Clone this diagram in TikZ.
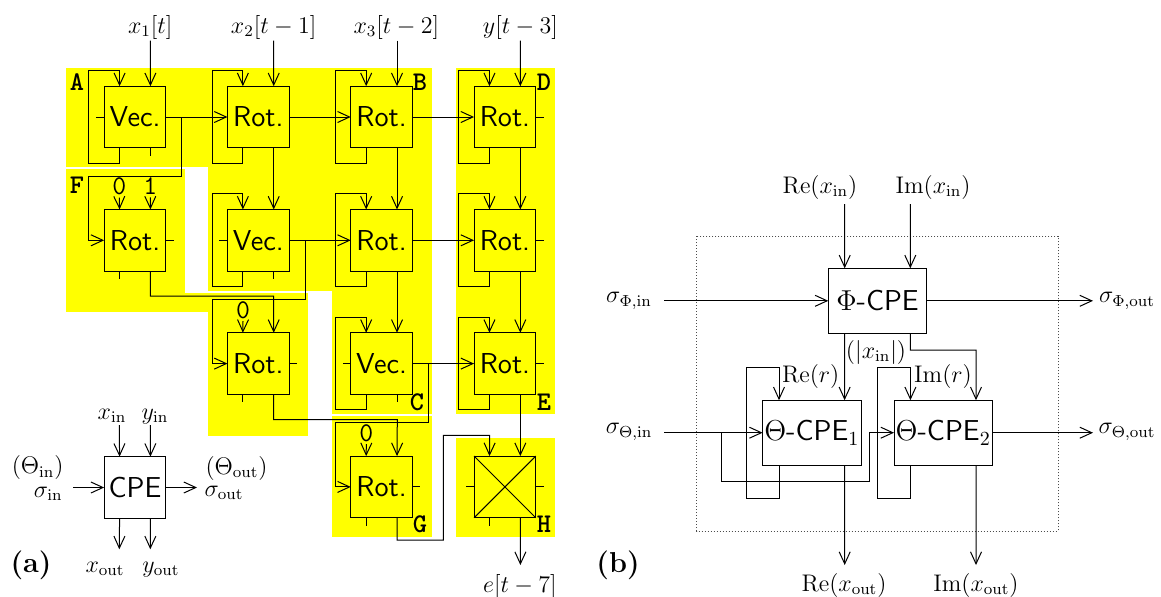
\documentclass[tikz,border=0pt]{standalone}
\usepackage{xcolor}
\usepackage{tikz}
\usepackage{amsmath}
\usetikzlibrary{arrows.meta,positioning,calc}
\definecolor{zonefill}{HTML}{FFFF00}
\newcommand{\markfont}{\ttfamily\bfseries\fontsize{13.5}{15}\selectfont}

\begin{document}
\begin{tikzpicture}[
  x=.5pt, y=-.5pt,
  node distance=30.8pt,
  line width=.5pt,
  zone/.style={fill=zonefill},
  cell/.style={draw, fill=zonefill, minimum size=30.85pt, inner sep=0pt, outer sep=0pt, font=\Large\sffamily},
  pebox/.style={draw, fill=white, minimum width=49.2pt, minimum height=32.5pt, inner sep=0pt, outer sep=0pt, font=\Large\sffamily},
  arr/.style={-{Straight Barb[length=6pt,width=5.5pt]}},
  lab/.style={inner sep=.5pt, font=\large},
  val/.style={inner sep=1pt, font=\ttfamily\fontsize{13.5}{15}\selectfont},
  regmark/.style={inner sep=0pt, font=\markfont}
]
\useasboundingbox (0,0) rectangle (1161,596);

% yellow regions
\fill[zone] (66,67.5) rectangle (431.7,166.5);
\fill[zone] (208,166) rectangle (308,290.7);
\fill[zone] (308,166) rectangle (332,291);
\fill[zone] (332,166) rectangle (431.7,414);
\fill[zone] (66,169) rectangle (185,311.7);
\fill[zone] (185,292.7) rectangle (208,311.7);
\fill[zone] (208,292.7) rectangle (308,435.5);
\fill[zone] (332,416) rectangle (431.7,536.7);
\fill[zone] (455.7,67.5) rectangle (555,414);
\fill[zone] (455.7,437.7) rectangle (555,536.7);

% array of cells
\node[cell] (n11) at (135,117) {Vec.};
\node[cell, right=of n11] (n12) {Rot.};
\node[cell, right=of n12] (n13) {Rot.};
\node[cell, right=of n13] (n14) {Rot.};
\node[cell, below=of n11] (n21) {Rot.};
\node[cell, right=of n21] (n22) {Vec.};
\node[cell, right=of n22] (n23) {Rot.};
\node[cell, right=of n23] (n24) {Rot.};
\node[cell, below=of n22] (n32) {Rot.};
\node[cell, right=of n32] (n33) {Vec.};
\node[cell, right=of n33] (n34) {Rot.};
\node[cell, below=of n33] (n43) {Rot.};
\node[cell, right=of n43] (n44) {};
\node[cell, fill=white] (cpe) at (135,487.5) {CPE};
\draw (n44.north west) -- (n44.south east);
\draw (n44.north east) -- (n44.south west);

\foreach \c in {n11,n12,n13,n14,n21,n22,n23,n24,n32,n33,n34,n43,n44,cpe} {
  \coordinate (\c-t1) at ($(\c.north west)!.25!(\c.north east)$);
  \coordinate (\c-t2) at ($(\c.north west)!.75!(\c.north east)$);
  \coordinate (\c-b1) at ($(\c.south west)!.25!(\c.south east)$);
  \coordinate (\c-b2) at ($(\c.south west)!.75!(\c.south east)$);
}

% feedback loops
\foreach \c in {n11,n12,n13,n14,n22,n23,n24,n33,n34}
  \draw[arr] (\c-b1) -- ++(0,15.5) -| ($(\c.west)+(-15.4,0)$) |- ($(\c-t1)+(0,-15.6)$) -- (\c-t1);

% unused ports
\foreach \c in {n11,n22,n33,n44}
  \draw (\c.west) -- ++(-8,0);
\foreach \c in {n14,n21,n24,n32,n34,n43,n44}
  \draw (\c.east) -- ++(8,0);
\foreach \c in {n21,n32,n43,n44}
  \draw (\c-b1) -- ++(0,8);
\foreach \c in {n11,n22,n33}
  \draw (\c-b2) -- ++(0,8);

% inputs
\node[lab] (x1) at (150.3,27) {$x_1[t]$};
\node[lab] (x2) at (273.7,27) {$x_2[t-1]$};
\node[lab] (x3) at (396.3,27) {$x_3[t-2]$};
\node[lab] (y3) at (520.4,27) {$y[t-3]$};
\draw[arr] (x1.south) -- (n11-t2);
\draw[arr] (x2.south) -- (n12-t2);
\draw[arr] (x3.south -| n13-t2) -- (n13-t2);
\draw[arr] (y3.south) -- (n14-t2);
\node[val] (v1) at (119.3,186.5) {0};
\node[val] (v2) at (150.3,186.5) {1};
\node[val] (v3) at (243,310) {0};
\node[val] (v4) at (366.3,433) {0};
\draw[arr] (v1.south) -- (n21-t1);
\draw[arr] (v2.south) -- (n21-t2);
\draw[arr] (v3.south) -- (n32-t1);
\draw[arr] (v4.south) -- (n43-t1);

% connections
\draw[arr] (n11) -- (n12);
\draw[arr] (n12) -- (n13);
\draw[arr] (n13) -- (n14);
\draw[arr] (n22) -- (n23);
\draw[arr] (n23) -- (n24);
\draw[arr] (n33) -- (n34);
\draw[arr] (n12-b2) -- (n22-t2);
\draw[arr] (n13-b2) -- (n23-t2);
\draw[arr] (n14-b2) -- (n24-t2);
\draw[arr] (n23-b2) -- (n33-t2);
\draw[arr] (n24-b2) -- (n34-t2);
\draw[arr] (n34-b2) -- (n44-t2);
\draw[arr] (181,117) |- (88.5,176) |- (n21.west);
\draw[arr] (305,240.7) |- (212.3,299) |- (n32.west);
\draw[arr] (428.3,364) |- (335.7,422.7) |- (n43.west);
\draw[arr] (n21-b2) |- (273.7,296) -- (n32-t2);
\draw[arr] (n32-b2) |- (397.3,419.7) -- (n43-t2);
\draw[arr] (n43-b2) |- (443.3,540) |- (489.7,435.3) -- (n44-t1);
\coordinate (eend) at (520.4,565);
\draw[arr] (n44-b2) -- (eend);
\node[lab] (e7) at (520,586) {$e[t-7]$};

% region marks
\node[regmark] (mA) at (77,82) {A};
\node[regmark] (mB) at (420,82) {B};
\node[regmark] (mC) at (417,402) {C};
\node[regmark] (mD) at (544,82) {D};
\node[regmark] (mE) at (544,402) {E};
\node[regmark] (mF) at (77,185) {F};
\node[regmark] (mG) at (420,524) {G};
\node[regmark] (mH) at (544,524) {H};

% single element
\node[lab, anchor=base] (xin) at (112,419) {$x_{\mathrm{in}}$};
\node[lab, anchor=base] (yin) at (155,419) {$y_{\mathrm{in}}$};
\node[lab, anchor=base] (xout) at (105,572) {$x_{\mathrm{out}}$};
\node[lab, anchor=base] (yout) at (161,572) {$y_{\mathrm{out}}$};
\node[lab, anchor=base east] (sin) at (64,497) {$\sigma_{\mathrm{in}}$};
\node[lab, anchor=base east] (tin) at (65,473.5) {$(\Theta_{\mathrm{in}})$};
\node[lab, anchor=base west] (sout) at (203,496) {$\sigma_{\mathrm{out}}$};
\node[lab, anchor=base west] (tout) at (204,474) {$(\Theta_{\mathrm{out}})$};
\coordinate (cin) at (73,487.5);
\coordinate (cout) at (197,487.5);
\coordinate (ct1) at (119.3,425);
\coordinate (ct2) at (150.3,425);
\coordinate (cb1) at (119.3,549.3);
\coordinate (cb2) at (150.3,549.3);
\draw[arr] (cin) -- (cpe);
\draw[arr] (cpe) -- (cout);
\draw[arr] (ct1) -- (cpe-t1);
\draw[arr] (ct2) -- (cpe-t2);
\draw[arr] (cpe-b1) -- (cb1);
\draw[arr] (cpe-b2) -- (cb2);
\node[lab, font=\Large\bfseries] (pa) at (31,565) {(a)};

% panel b
\draw[densely dotted, black!70] (696.7,236) rectangle (1058,531);
\node[pebox] (phi) at (877.5,300.8) {$\Phi$-CPE};
\node[pebox] (the1) at (811.8,432.7) {$\Theta$-CPE$_1$};
\node[pebox, right=16.5pt of the1] (the2) {$\Theta$-CPE$_2$};
\foreach \c in {phi,the1,the2} {
  \coordinate (\c-t1) at ($(\c.north west)!1/6!(\c.north east)$);
  \coordinate (\c-t2) at ($(\c.north west)!5/6!(\c.north east)$);
  \coordinate (\c-b1) at ($(\c.south west)!1/6!(\c.south east)$);
  \coordinate (\c-b2) at ($(\c.south west)!5/6!(\c.south east)$);
}
\node[lab] (rein) at (820,187) {$\mathrm{Re}(x_{\mathrm{in}})$};
\node[lab] (imin) at (933,187) {$\mathrm{Im}(x_{\mathrm{in}})$};
\node[lab] (sphi) at (629,301) {$\sigma_{\Phi,\mathrm{in}}$};
\node[lab] (sthe) at (629,432) {$\sigma_{\Theta,\mathrm{in}}$};
\node[lab] (ophi) at (1127,301) {$\sigma_{\Phi,\mathrm{out}}$};
\node[lab] (othe) at (1127,432) {$\sigma_{\Theta,\mathrm{out}}$};
\node[lab] (reout) at (844,585) {$\mathrm{Re}(x_{\mathrm{out}})$};
\node[lab] (imout) at (976,585) {$\mathrm{Im}(x_{\mathrm{out}})$};
\node[lab] (absx) at (876,352) {$(|x_{\mathrm{in}}|)$};
\node[lab] (rer) at (810.7,376) {$\mathrm{Re}(r)$};
\node[lab] (imr) at (943,376) {$\mathrm{Im}(r)$};
\node[lab, font=\Large\bfseries] (pb) at (618,565) {(b)};
\coordinate (rt) at (844.7,204);
\coordinate (it) at (910.3,204);
\coordinate (pin) at (664,300.8);
\coordinate (pout) at (1093,300.8);
\coordinate (tin1) at (664,432.7);
\coordinate (tout1) at (1093,432.7);
\coordinate (rb) at (844.7,565);
\coordinate (ib) at (976,565);
\draw[arr] (rt) -- (phi-t1);
\draw[arr] (it) -- (phi-t2);
\draw[arr] (pin) -- (phi);
\draw[arr] (phi) -- (pout);
\draw[arr] (tin1) -- (the1);
\draw[arr] (the2) -- (tout1);
\draw[arr] (phi-b1) -- (the1-t2);
\draw[arr] (phi-b2) |- (976,350) -- (the2-t2);
\draw[arr] (the1-b1) -- ++(0,33) -| (746,367) -| (the1-t1);
\draw[arr] (the2-b1) -- ++(0,33) -| (877.7,367) -| (the2-t1);
\draw[arr] (721.3,432.7) |- (869.3,481.7) |- (the2.west);
\draw[arr] (the1-b2) -- (rb);
\draw[arr] (the2-b2) -- (ib);
\end{tikzpicture}
\end{document}
